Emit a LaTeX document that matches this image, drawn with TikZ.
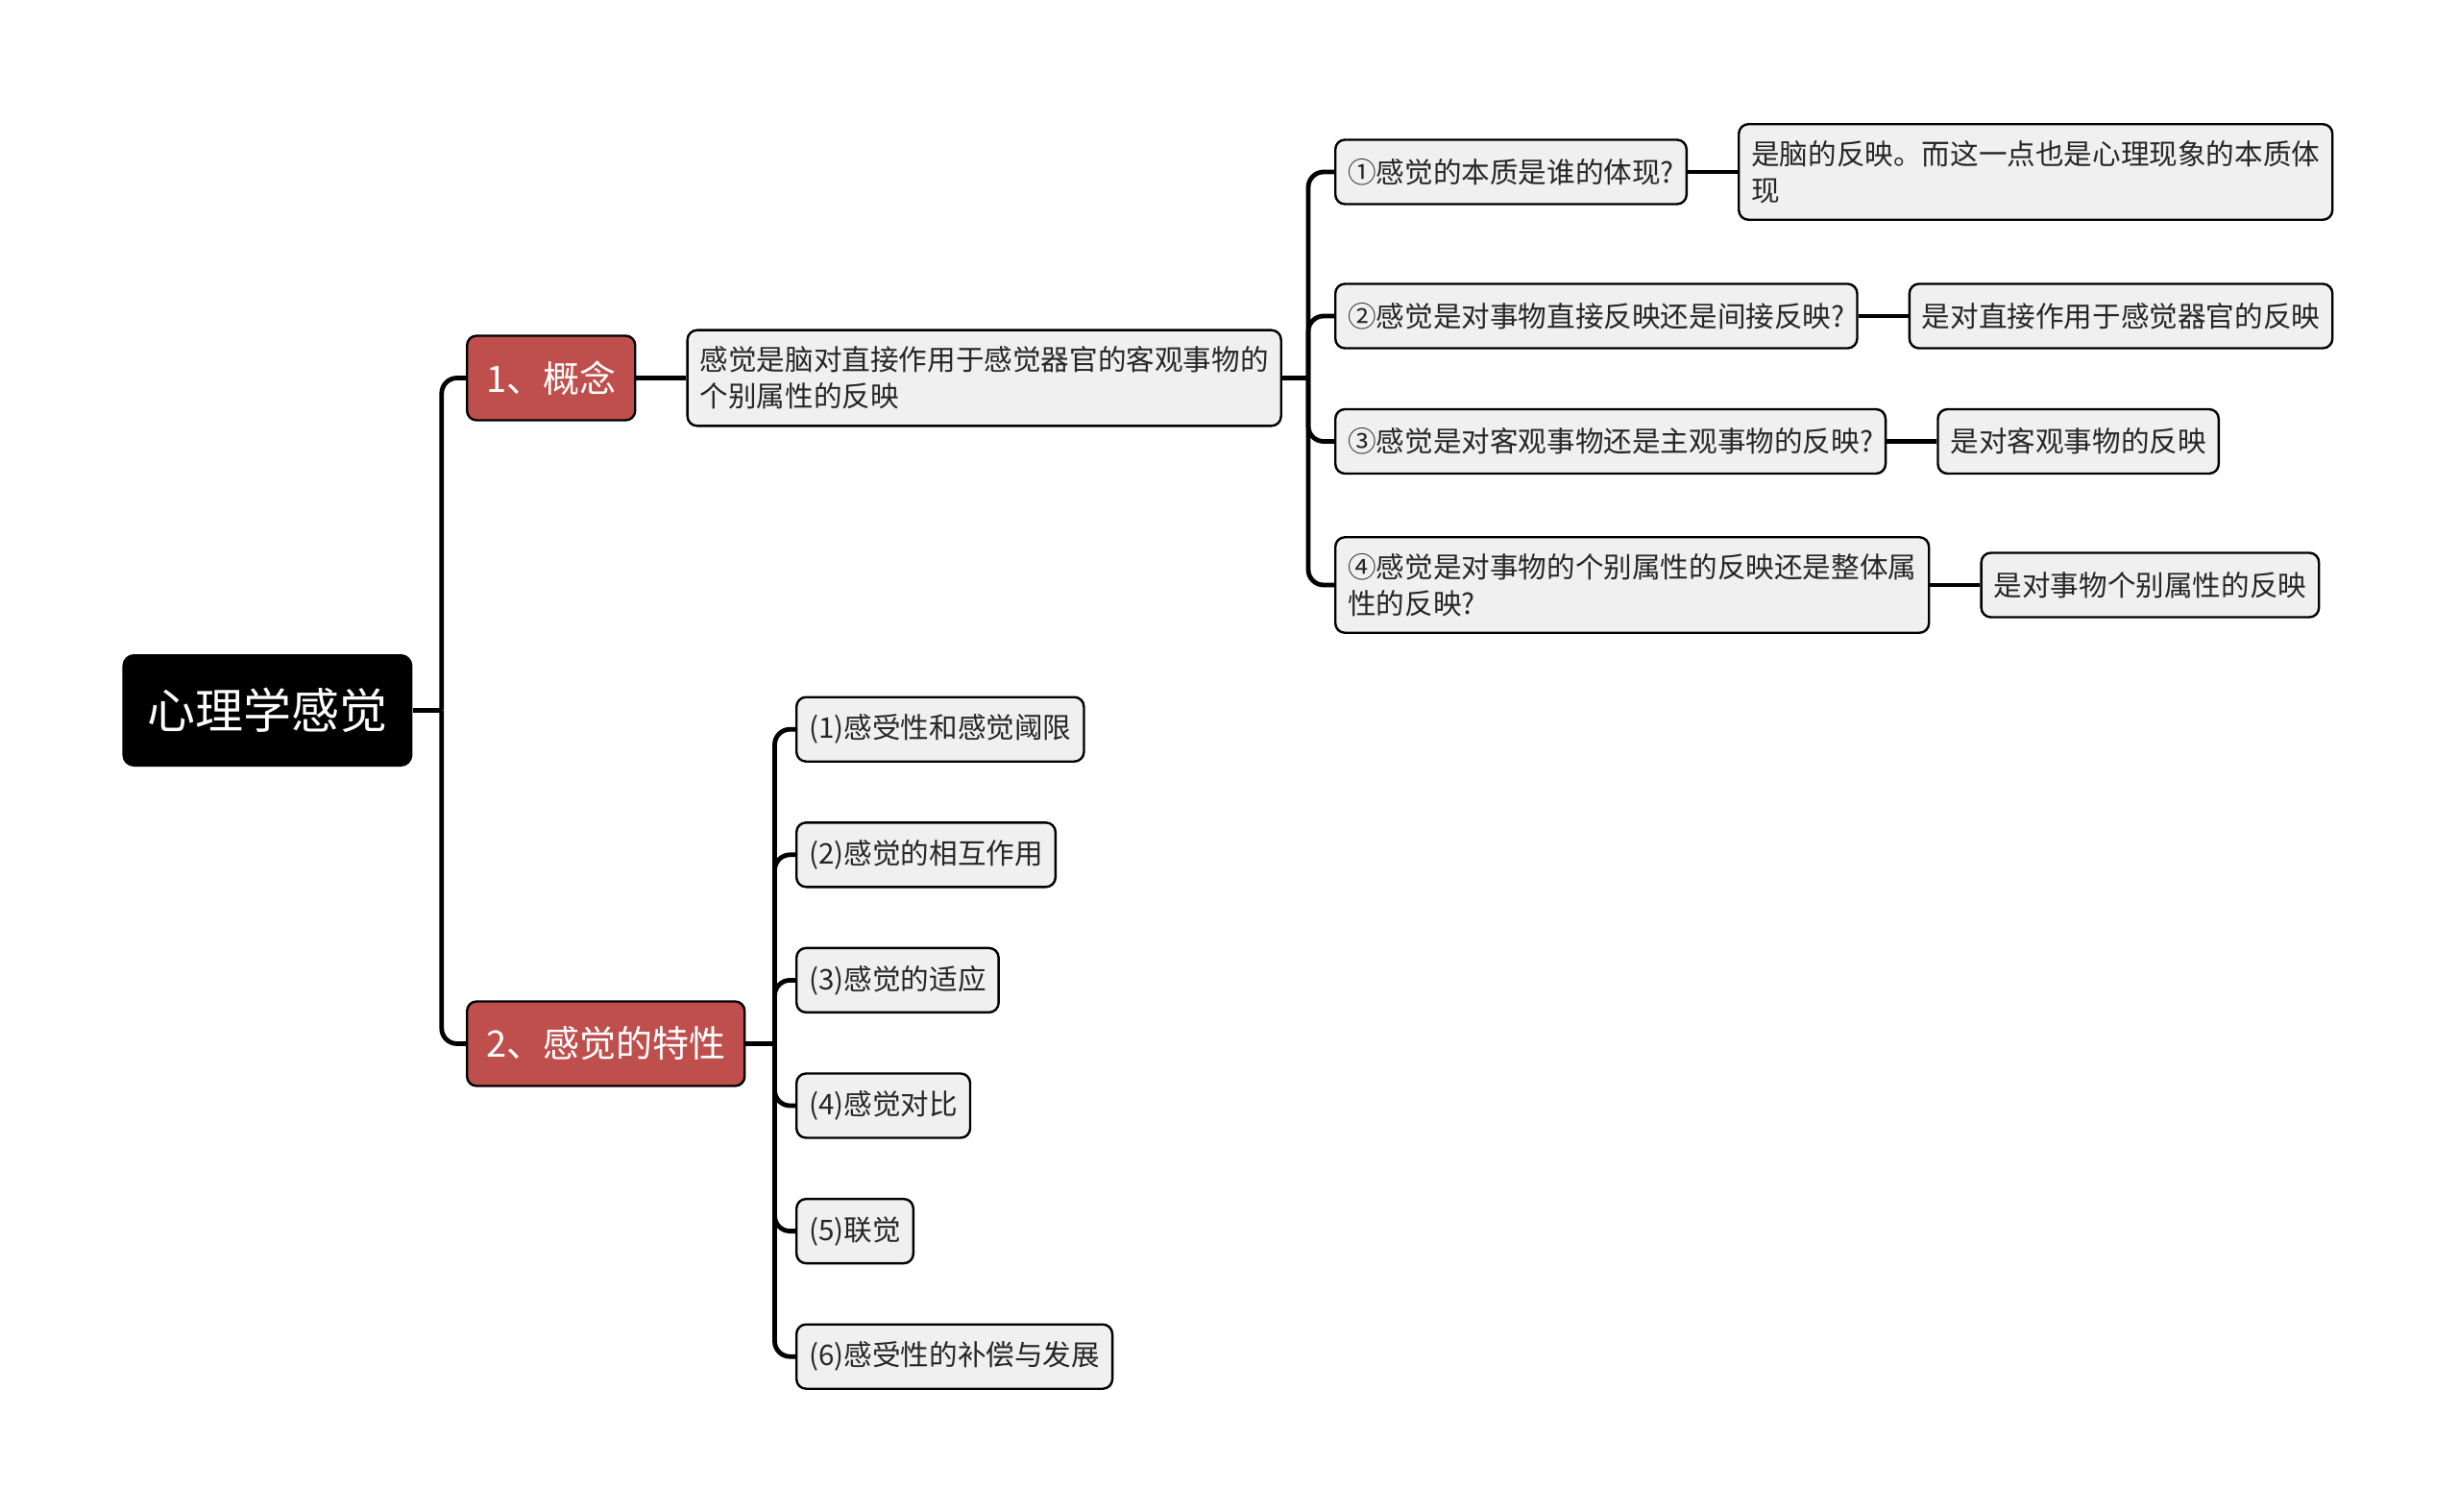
\documentclass[tikz,border=0pt]{standalone}
\usepackage{fontspec}
\setmainfont{Noto Sans CJK SC}
\usetikzlibrary{calc,positioning}
\definecolor{BranchClr}{rgb}{0.75,0.31,0.30}
\definecolor{LeafClr}{rgb}{0.94,0.94,0.94}
\tikzset{
  rootbox/.style={fill=black,text=white,rounded corners=6pt,font=\fontsize{25}{30}\selectfont,
    minimum height=58.5pt,inner xsep=13pt,anchor=west},
  branchbox/.style={fill=BranchClr,draw=black,line width=1.2pt,text=white,rounded corners=5pt,
    font=\fontsize{19}{23}\selectfont,minimum height=44pt,inner xsep=10pt,anchor=west},
  leafbox/.style={fill=LeafClr,draw=black,line width=1.2pt,text=black!85,rounded corners=5pt,
    font=\fontsize{14.8}{19}\selectfont,minimum height=33.5pt,inner xsep=6.5pt,inner ysep=8.5pt,
    align=left,anchor=west},
  link/.style={line width=2.4pt,rounded corners=8pt}
}

\begin{document}
\begin{tikzpicture}[x=1pt,y=-1pt]
\useasboundingbox (0,0) rectangle (1280,787);

\node[rootbox] (root) at (63.5,369.75) {心理学感觉};
\node[branchbox] (b1) at (242.5,196.75) {1、概念};
\node[branchbox] (b2) at (242.5,543.25) {2、感觉的特性};

\node[leafbox,right=26pt of b1] (desc) {感觉是脑对直接作用于感觉器官的客观事物的\\个别属性的反映};

\node[leafbox] (q1) at (694.5,89.5) {①感觉的本质是谁的体现?};
\node[leafbox] (q2) at (694.5,164.5) {②感觉是对事物直接反映还是间接反映?};
\node[leafbox] (q3) at (694.5,229.75) {③感觉是对客观事物还是主观事物的反映?};
\node[leafbox] (q4) at (694.5,304.5) {④感觉是对事物的个别属性的反映还是整体属\\性的反映?};

\node[leafbox,right=26pt of q1] (a1) {是脑的反映。而这一点也是心理现象的本质体\\现};
\node[leafbox,right=26pt of q2] (a2) {是对直接作用于感觉器官的反映};
\node[leafbox,right=26pt of q3] (a3) {是对客观事物的反映};
\node[leafbox,right=26pt of q4] (a4) {是对事物个别属性的反映};

\coordinate (t0) at ($(root.east)+(15,0)$);
\coordinate (t1) at ($(desc.east -| q1.west)+(-13.5,0)$);
\coordinate (t2) at ($(b2.east)+(15,0)$);

\draw[link] (root.east) -- (t0);
\draw[link] (t0) |- (b1.west);
\draw[link] (t0) |- (b2.west);
\draw[link] (b1.east) -- (desc.west);
\draw[link] (desc.east) -- (t1);
\draw[link] (b2.east) -- (t2);

\foreach \q in {q1,q2,q3,q4}{
  \draw[link] (t1) |- (\q.west);
}
\draw[link] (q1.east) -- (a1.west);
\draw[link] (q2.east) -- (a2.west);
\draw[link] (q3.east) -- (a3.west);
\draw[link] (q4.east) -- (a4.west);

\foreach \t [count=\i] in {{(1)感受性和感觉阈限},{(2)感觉的相互作用},{(3)感觉的适应},
    {(4)感觉对比},{(5)联觉},{(6)感受性的补偿与发展}}{
  \node[leafbox] (c\i) at (414,314.3+65.3*\i) {\t};
  \draw[link] (t2) |- (c\i.west);
}

\end{tikzpicture}
\end{document}
